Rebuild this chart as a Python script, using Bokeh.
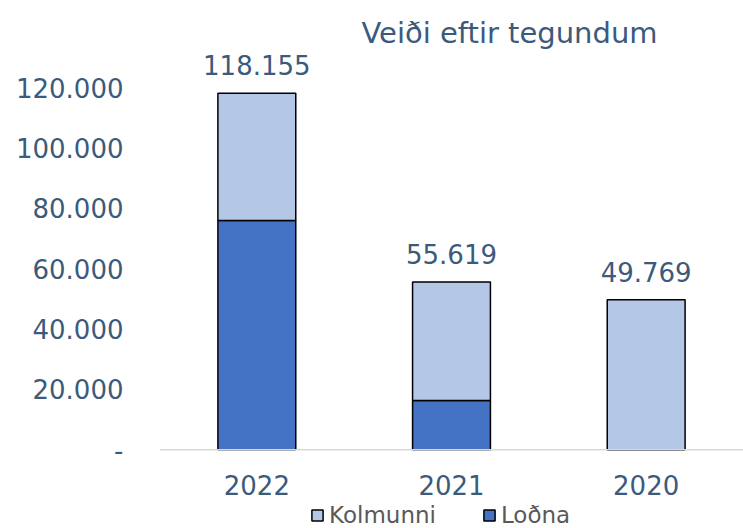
from bokeh.plotting import figure
from bokeh.models import ColumnDataSource, FixedTicker, Legend, LegendItem, FactorRange, Span
from bokeh.embed import file_html
from bokeh.resources import INLINE

# ---- data ----
years = ["2022", "2021", "2020"]
series = ["Loðna", "Kolmunni"]
lodna = [76000, 16300, 0]
kolmunni = [42155, 39319, 49769]
y_ticks = [0, 20000, 40000, 60000, 80000, 100000, 120000]


def fmt(v):
    return "-" if v == 0 else f"{v:,}".replace(",", ".")


totals = [a + b for a, b in zip(lodna, kolmunni)]
src = ColumnDataSource(dict(year=years, **{"Loðna": lodna, "Kolmunni": kolmunni},
                            total=totals, label=[fmt(t) for t in totals],
                            base=[0] * len(years)))

TEXT = "#3b5a7c"
FONT = "DejaVu Sans"
COLORS = ["#4472c4", "#b4c7e7"]

p = figure(x_range=FactorRange(*years, range_padding=0), y_range=(-26100, 132700),
           frame_width=584, frame_height=479, output_backend="svg", toolbar_location=None,
           min_border_left=159, min_border_right=0, min_border_top=49, min_border_bottom=0)

p.title.text = "Veiði eftir tegundum"
p.title.text_font = FONT
p.title.text_font_size = "29px"
p.title.text_font_style = "normal"
p.title.text_color = TEXT
p.title.align = "left"
p.title.offset = 202
p.title.standoff = 0

# category baseline
p.add_layout(Span(location=0, dimension="width", line_color="#d9d9d9", line_width=1.5))

rs = p.vbar_stack(series, x="year", width=0.4, color=COLORS, source=src,
                  line_color="black", line_width=1.5)

# total labels above bars
p.text(x="year", y="total", text="label", source=src, text_align="center",
       text_baseline="bottom", y_offset=-18, text_font_size="26px",
       text_color=TEXT, text_font={"value": FONT})

# category labels under the baseline
p.text(x="year", y="base", text="year", source=src, text_align="center",
       text_baseline="middle", y_offset=35, text_font_size="26px",
       text_color=TEXT, text_font={"value": FONT})

p.outline_line_color = None
p.grid.grid_line_color = None
p.xaxis.visible = False

p.yaxis.ticker = FixedTicker(ticks=y_ticks)
p.yaxis.major_label_overrides = {t: fmt(t) for t in y_ticks}
p.yaxis.axis_line_color = None
p.yaxis.major_tick_line_color = None
p.yaxis.minor_tick_line_color = None
p.yaxis.major_tick_out = 0
p.yaxis.major_label_text_font = FONT
p.yaxis.major_label_text_font_size = "26px"
p.yaxis.major_label_text_color = TEXT
p.yaxis.major_label_standoff = 36

legend = Legend(items=[LegendItem(label=series[1], renderers=[rs[1]]),
                       LegendItem(label=series[0], renderers=[rs[0]])],
                orientation="horizontal", location=(151, 0),
                label_text_font=FONT, label_text_font_size="23px",
                label_text_color="#595959", glyph_width=14, glyph_height=14,
                label_standoff=5, spacing=46, padding=0, margin=0,
                border_line_color=None, background_fill_alpha=0)
p.add_layout(legend)

open("out.html", "w").write(file_html(p, INLINE))
